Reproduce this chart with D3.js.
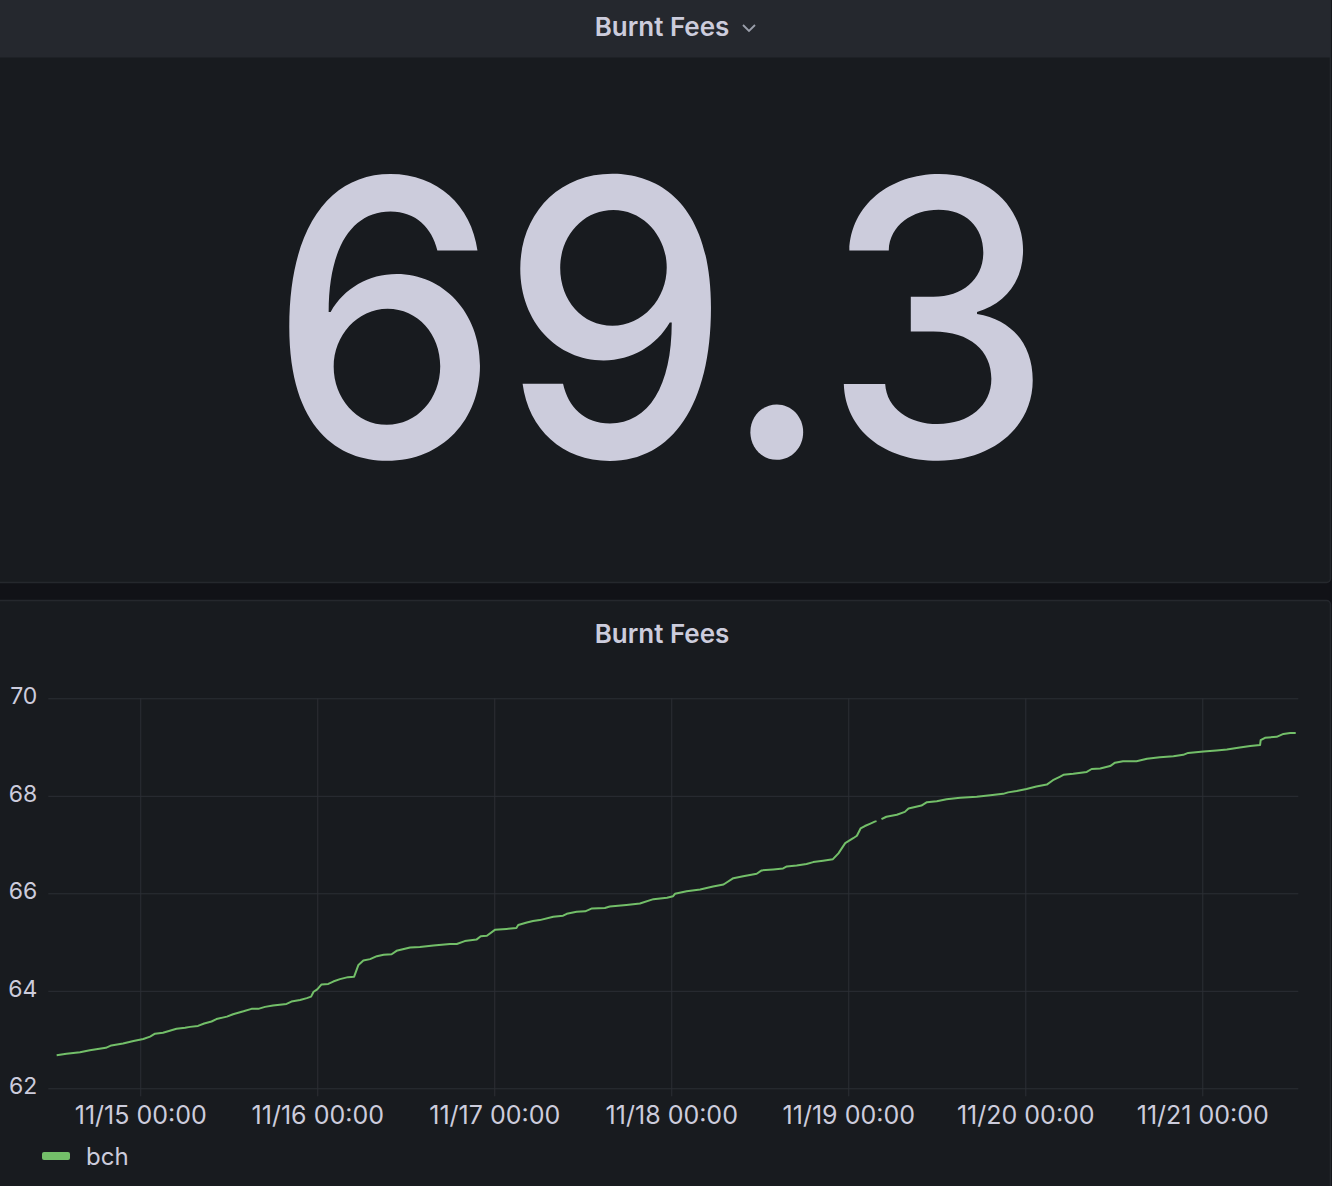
<!DOCTYPE html>
<html><head><meta charset="utf-8">
<script src="https://cdn.jsdelivr.net/npm/d3@7/dist/d3.min.js"></script>
<style>
html,body{margin:0;padding:0;background:#111217;}
svg{display:block;}
text{font-family:Inter,"Noto Sans",sans-serif;}
</style></head><body>
<svg id="c" width="1332" height="1186"></svg>
<script>
const panelTitle = "Burnt Fees";
const seriesName = "bch";
const times = ["11-14 12:40","11-14 14:00","11-14 15:50","11-14 17:10","11-14 19:20","11-14 20:05","11-14 21:40","11-14 23:05",
"11-15 00:25","11-15 01:20","11-15 02:00","11-15 03:05","11-15 04:00","11-15 04:55","11-15 06:05","11-15 06:45","11-15 07:50","11-15 08:40","11-15 09:40","11-15 10:20","11-15 11:45","11-15 12:35","11-15 14:00","11-15 15:05","11-15 16:00","11-15 16:55","11-15 18:00","11-15 19:50","11-15 20:30","11-15 21:40","11-15 22:35","11-15 23:10","11-15 23:30",
"11-16 00:00","11-16 00:35","11-16 01:30","11-16 02:10","11-16 03:05","11-16 04:10","11-16 05:00","11-16 05:35","11-16 06:15","11-16 07:10","11-16 08:05","11-16 09:00","11-16 10:05","11-16 10:45","11-16 12:35","11-16 13:55","11-16 15:45","11-16 18:00","11-16 18:55","11-16 20:00","11-16 21:35","11-16 22:10","11-16 23:00",
"11-17 00:05","11-17 01:40","11-17 03:00","11-17 03:15","11-17 04:25","11-17 05:15","11-17 06:10","11-17 08:00","11-17 09:20","11-17 09:50","11-17 11:10","11-17 12:20","11-17 13:15","11-17 15:00","11-17 15:40","11-17 17:55","11-17 19:45","11-17 21:35","11-17 23:25",
"11-18 00:15","11-18 00:30","11-18 02:05","11-18 03:55","11-18 05:40","11-18 07:05","11-18 08:25","11-18 09:45","11-18 11:35","11-18 12:15","11-18 13:50","11-18 15:10","11-18 15:40","11-18 17:00","11-18 18:20","11-18 19:15","11-18 20:35","11-18 21:55","11-18 22:40","11-18 23:35",
"11-19 00:40","11-19 01:10","11-19 01:40","11-19 02:15","11-19 03:00","11-19 03:35","11-19 03:50","11-19 04:10","11-19 04:30","11-19 05:10","11-19 06:35","11-19 07:40","11-19 08:10","11-19 09:55","11-19 10:40","11-19 12:00","11-19 13:20","11-19 15:10","11-19 17:25","11-19 19:15","11-19 21:00","11-19 21:40","11-19 22:50",
"11-20 00:10","11-20 01:30","11-20 02:55","11-20 03:45","11-20 04:40","11-20 05:10","11-20 06:30","11-20 08:20","11-20 09:00","11-20 10:10","11-20 11:30","11-20 12:10","11-20 13:15","11-20 15:05","11-20 16:30","11-20 18:15","11-20 20:05","11-20 21:25","11-20 22:05",
"11-21 00:10","11-21 01:55","11-21 03:20","11-21 05:05","11-21 06:30","11-21 07:50","11-21 07:55","11-21 08:30","11-21 10:05","11-21 11:00","11-21 11:55","11-21 12:40"];
const values = [62.68,62.71,62.74,62.78,62.83,62.88,62.92,62.97,
63.01,63.06,63.12,63.14,63.18,63.22,63.24,63.26,63.28,63.33,63.37,63.42,63.47,63.52,63.58,63.63,63.63,63.67,63.70,63.73,63.78,63.81,63.85,63.88,63.98,
64.03,64.13,64.14,64.19,64.24,64.28,64.29,64.53,64.62,64.65,64.71,64.74,64.75,64.82,64.89,64.90,64.93,64.96,64.96,65.02,65.05,65.12,65.13,
65.25,65.27,65.29,65.35,65.40,65.43,65.45,65.52,65.54,65.58,65.62,65.63,65.69,65.70,65.73,65.76,65.79,65.88,65.91,
65.94,65.99,66.04,66.08,66.14,66.18,66.31,66.35,66.40,66.47,66.49,66.51,66.55,66.57,66.60,66.64,66.67,66.70,66.82,67.03,
67.13,67.18,67.33,67.38,67.43,67.47,67.48,null,67.52,67.57,67.61,67.67,67.74,67.80,67.87,67.89,67.93,67.96,67.98,68.01,68.04,68.07,68.10,
68.14,68.19,68.23,68.32,68.39,68.43,68.45,68.49,68.55,68.56,68.61,68.68,68.71,68.71,68.76,68.79,68.81,68.84,68.88,
68.91,68.93,68.95,68.99,69.02,69.04,69.14,69.19,69.21,69.27,69.29,69.29];
const yTicks = [62,64,66,68,70];
const xTickDays = ["11-15 00:00","11-16 00:00","11-17 00:00","11-18 00:00","11-19 00:00","11-20 00:00","11-21 00:00"];
const timeRange = ["11-14 11:32","11-21 13:01"];
const yRange = [62,70];

const parse = d3.timeParse("%Y-%m-%d %H:%M");
const P = s => parse("2021-" + s);
const data = times.map((t,i)=>({t:P(t), v:values[i]}));

const svg = d3.select("#c");
const text = "#ccccdc";

// top panel
svg.append("rect").attr("x",-4).attr("y",-6).attr("width",1334.5).attr("height",588.5).attr("rx",4)
  .attr("fill","#181b1f").attr("stroke","#25282d").attr("stroke-width",1.5);
svg.append("path").attr("d","M-4,0H1330.5V57.5H-4Z").attr("fill","#25282e");
svg.append("text").attr("x",662).attr("y",36).attr("text-anchor","middle")
  .attr("font-size",26).attr("font-weight",600).attr("fill",text).text(panelTitle);
svg.append("path").attr("d","M743,25 L749,31 L755,25").attr("fill","none").attr("stroke","#9b9fab").attr("stroke-width",1.8);

const last = values.filter(v=>v!=null).slice(-1)[0];
svg.append("text").attr("transform","translate(661,457) scale(0.955,1)").attr("text-anchor","middle")
  .attr("font-size",384).attr("font-weight",500).attr("fill",text).text(d3.format(".1f")(last));

// bottom panel
svg.append("rect").attr("x",-4).attr("y",600.5).attr("width",1334.5).attr("height",600).attr("rx",4)
  .attr("fill","#181b1f").attr("stroke","#25282d").attr("stroke-width",1.5);
svg.append("text").attr("x",662).attr("y",643).attr("text-anchor","middle")
  .attr("font-size",26).attr("font-weight",600).attr("fill",text).text(panelTitle);

const L = 48.3, R = 1298.3, T = 698.3, B = 1088.3;
const x = d3.scaleTime().domain(timeRange.map(P)).range([L,R]);
const y = d3.scaleLinear().domain(yRange).range([B,T]);
const grid = "#2c2f35";

const gx = svg.append("g").attr("transform",`translate(0,${B})`)
  .call(d3.axisBottom(x).tickValues(xTickDays.map(P)).tickSize(-(B-T)).tickSizeOuter(0).tickPadding(0)
    .tickFormat(d3.timeFormat("%m/%d %H:%M")));
gx.select(".domain").remove();
gx.selectAll(".tick line").attr("stroke",grid).attr("y1",8);
gx.selectAll(".tick text").attr("fill",text).attr("font-size",25).attr("font-family","Inter").attr("dy",0).attr("y",36);

const gy = svg.append("g").attr("transform",`translate(${L},0)`)
  .call(d3.axisLeft(y).tickValues(yTicks).tickSize(-(R-L)).tickPadding(11).tickFormat(d3.format("d")));
gy.select(".domain").remove();
gy.selectAll(".tick line").attr("stroke",grid);
gy.selectAll(".tick text").attr("fill",text).attr("font-size",23).attr("font-family","Inter").attr("dy","0.32em").attr("y",-2);

const line = d3.line().defined(d=>d.v!=null).x(d=>x(d.t)).y(d=>y(d.v));
svg.append("path").datum(data).attr("d",line).attr("fill","none").attr("stroke","#73bf69")
  .attr("stroke-width",2).attr("stroke-linejoin","round");

// legend
const lg = svg.append("g").attr("transform","translate(42,1152)");
lg.append("rect").attr("width",28).attr("height",8).attr("rx",2).attr("fill","#73bf69");
lg.append("text").attr("x",44).attr("y",12.5).attr("font-size",24).attr("fill",text).text(seriesName);
</script></body></html>
